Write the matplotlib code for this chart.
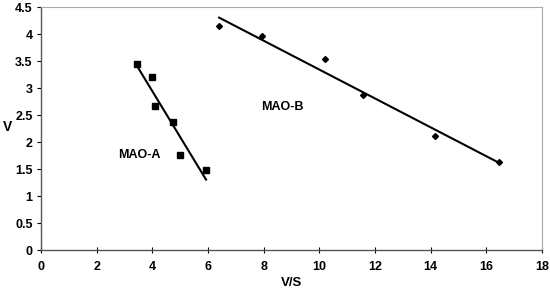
import numpy as np
import matplotlib
matplotlib.use('Agg')
import matplotlib.pyplot as plt

plt.rcParams['font.family'] = ['Liberation Sans', 'DejaVu Sans']
plt.rcParams['font.weight'] = 'bold'

# MAO-A data (squares)
vs_a = [3.45, 4.0, 4.1, 4.74, 4.99, 5.93]
v_a = [3.45, 3.20, 2.67, 2.37, 1.76, 1.48]
# MAO-B data (diamonds)
vs_b = [6.40, 7.93, 10.19, 11.56, 14.15, 16.47]
v_b = [4.15, 3.96, 3.54, 2.87, 2.11, 1.63]

xticks = [0, 2, 4, 6, 8, 10, 12, 14, 16, 18]
yticks = [0, 0.5, 1, 1.5, 2, 2.5, 3, 3.5, 4, 4.5]

fig = plt.figure(figsize=(5.5, 2.95), dpi=100)
ax = fig.add_axes([0.0745, 0.1525, 0.911, 0.8235])

ax.plot(vs_a, v_a, 's', color='black', markersize=4.5)
ax.plot(vs_b, v_b, 'D', color='black', markersize=3)

# least squares lines
for xs, ys in [(vs_a, v_a), (vs_b, v_b)]:
    a, b = np.polyfit(xs, ys, 1)
    xx = np.array([min(xs), max(xs)])
    ax.plot(xx, a * xx + b, color='black', lw=1.5)

ax.text(2.77, 1.76, 'MAO-A', fontsize=9, fontweight='bold', va='center')
ax.text(7.9, 2.65, 'MAO-B', fontsize=9, fontweight='bold', va='center')

ax.set_xlim(0, 18)
ax.set_ylim(0, 4.5)
ax.set_xticks(xticks)
ax.set_yticks(yticks)
ax.set_xticklabels([str(t) for t in xticks])
ax.set_yticklabels([('%g' % t) for t in yticks])
ax.tick_params(axis='x', direction='inout', length=4, width=0.8, labelsize=9, pad=6)
ax.tick_params(axis='y', direction='out', length=3, width=0.8, labelsize=9, pad=3)
for lab in ax.get_xticklabels() + ax.get_yticklabels():
    lab.set_fontweight('bold')

ax.set_xlabel('V/S', fontsize=9.5, fontweight='bold', labelpad=3)
fig.text(8 / 550, 1 - 127 / 295, 'V', fontsize=10, fontweight='bold',
         ha='center', va='center')

for s in ['left', 'bottom']:
    ax.spines[s].set_color('#555555')
    ax.spines[s].set_linewidth(1.0)
for s in ['top', 'right']:
    ax.spines[s].set_color('#aaaaaa')
    ax.spines[s].set_linewidth(0.8)

fig.savefig('out.png', dpi=100)
